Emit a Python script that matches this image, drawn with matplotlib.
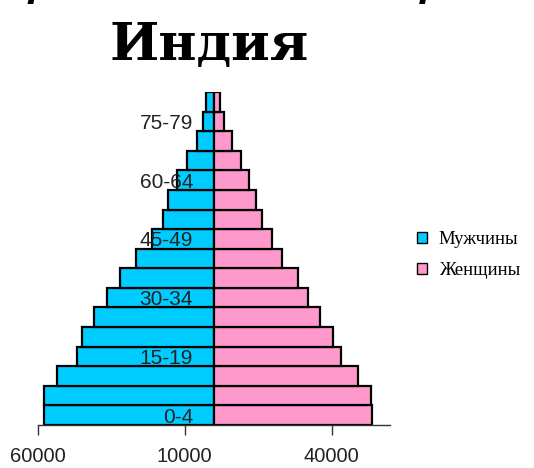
#!/usr/bin/env python

import matplotlib
matplotlib.use('Agg')
import matplotlib.pyplot as plt
from matplotlib.patches import Patch
import numpy as np

# Age groups, from the bottom of the pyramid to the top
age_groups = ['0-4', '5-9', '10-14', '15-19', '20-24', '25-29', '30-34',
              '35-39', '40-44', '45-49', '50-54', '55-59', '60-64',
              '65-69', '70-74', '75-79', '80+']

# Population, thousands
males = [57800, 57800, 53400, 46600, 44900, 40800, 36400, 32000, 26500,
         21100, 17300, 15600, 12600, 9200, 5800, 3700, 2700]
females = [53700, 53400, 49000, 43200, 40500, 36100, 32000, 28600, 23100,
           19700, 16300, 14300, 11900, 9200, 6100, 3400, 2000]

legend_labels = ['Мужчины', 'Женщины']
x_ticks = [-60000, -10000, 40000]
x_tick_labels = ['60000', '10000', '40000']

blue = '#00CCFF'
pink = '#FF99CC'

fig = plt.figure(figsize=(5.34, 4.68), dpi=100)
ax = fig.add_axes([37.6/534, 43/468, 352.8/534, 333/468])

y = np.arange(len(age_groups))
ax.barh(y, -np.array(males), height=1.0, color=blue, edgecolor='black',
        linewidth=1.6)
ax.barh(y, females, height=1.0, color=pink, edgecolor='black',
        linewidth=1.6)

ax.set_xlim(-60000, 60000)
ax.set_ylim(-0.5, len(age_groups) - 0.5)

# Only the bottom axis is drawn, the age labels sit on the centre line
for side in ['top', 'right']:
    ax.spines[side].set_visible(False)
ax.spines['left'].set_position(('data', 0))
ax.spines['left'].set_color('none')
ax.spines['bottom'].set_color('#333333')
ax.spines['bottom'].set_linewidth(1.0)

ax.set_yticks(y[::3])
ax.set_yticklabels(age_groups[::3], fontfamily='Liberation Sans')
ax.tick_params(axis='y', length=0, pad=15, labelsize=15, labelcolor='#222222')

ax.set_xticks(x_ticks)
ax.set_xticklabels(x_tick_labels, fontfamily='Liberation Sans')
ax.tick_params(axis='x', length=7, width=1, color='#333333', pad=9,
               labelsize=14.5, labelcolor='#222222')

# Title, with the cut-off heading above it
fig.text(0.5, 1 + 3/468, 'Возрастно-половые пирамиды', ha='center',
         va='baseline', fontfamily='DejaVu Serif', fontweight='bold',
         fontstyle='italic', fontsize=24)
fig.text(110/534, 1 - 60/468, 'Индия', ha='left', va='baseline',
         fontfamily='DejaVu Serif', fontweight='bold', fontsize=37.5)

handles = [Patch(facecolor=blue, edgecolor='black', linewidth=1.0),
           Patch(facecolor=pink, edgecolor='black', linewidth=1.0)]
fig.legend(handles, legend_labels, loc='upper left',
           bbox_to_anchor=(417/534, 1 - 231/468), frameon=False,
           prop={'family': 'Liberation Serif', 'size': 13.5},
           handlelength=0.55, handleheight=0.55, handletextpad=0.6,
           labelspacing=0.75, borderpad=0, borderaxespad=0)

fig.savefig('out.png', dpi=100)
